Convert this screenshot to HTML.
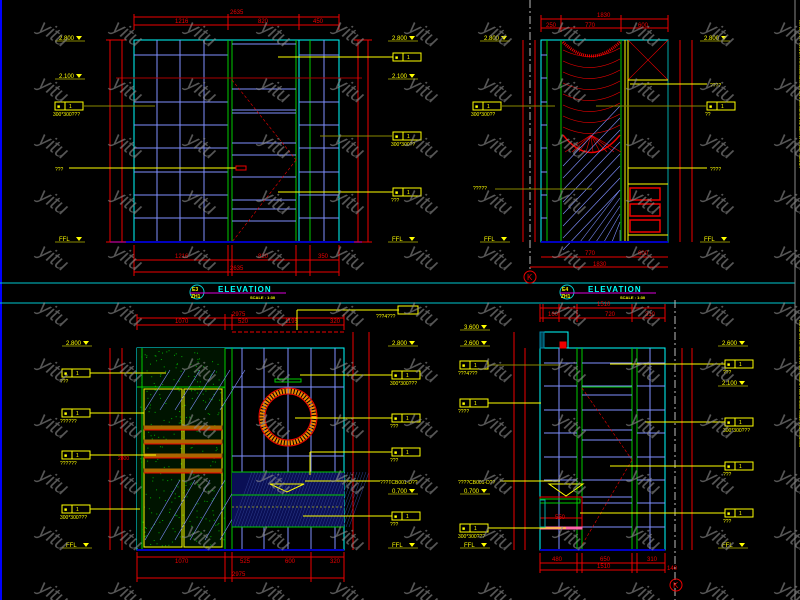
<!DOCTYPE html>
<html><head><meta charset="utf-8"><style>
html,body{margin:0;padding:0;background:#000;width:800px;height:600px;overflow:hidden}
svg{display:block}
text{font-family:"Liberation Sans",sans-serif}
</style></head><body>
<svg id="s" width="800" height="600" viewBox="0 0 800 600" xmlns="http://www.w3.org/2000/svg">
<rect width="800" height="600" fill="#000"/>
<line x1="1" y1="0" x2="1" y2="600" stroke="#0000ff" stroke-width="2"/>
<line x1="0" y1="283" x2="795" y2="283" stroke="#00c8d0" stroke-width="1"/>
<line x1="0" y1="303" x2="795" y2="303" stroke="#00c8d0" stroke-width="1"/>
<line x1="795" y1="0" x2="795" y2="600" stroke="#888" stroke-width="1"/>
<g id="g"></g>
<g font-weight="bold">
<circle cx="197" cy="292" r="7" fill="none" stroke="#0cc"/>
<text x="192" y="291" font-size="5" fill="#ff0">E3</text><text x="191" y="298" font-size="5" fill="#ff0">ZH1</text>
<line x1="190" y1="293" x2="286" y2="293" stroke="#d0d"/>
<text x="218" y="292" font-size="8" fill="#0ff" letter-spacing="1">ELEVATION</text>
<text x="250" y="299" font-size="4" fill="#ff0">SCALE :  1:30</text>
<circle cx="567" cy="292" r="7" fill="none" stroke="#0cc"/>
<text x="562" y="291" font-size="5" fill="#ff0">E4</text><text x="561" y="298" font-size="5" fill="#ff0">ZH1</text>
<line x1="560" y1="293" x2="656" y2="293" stroke="#d0d"/>
<text x="588" y="292" font-size="8" fill="#0ff" letter-spacing="1">ELEVATION</text>
<text x="620" y="299" font-size="4" fill="#ff0">SCALE :  1:30</text>
</g>
<circle cx="530" cy="277" r="6" fill="none" stroke="#e00"/><text x="527" y="280" font-size="8" fill="#e00">K</text>
<circle cx="676" cy="585" r="6" fill="none" stroke="#e00"/><text x="673" y="588" font-size="8" fill="#e00">K</text>
<g fill="#ff0" font-size="3.5">
<text transform="translate(799,20) rotate(90)">REFER HTTP://WWW.YITU.CN/DRAWINGS DWG ELEVATION DETAILS INTERIOR CABINET</text>
<text transform="translate(799,320) rotate(90)">ELEVATION DETAILS INTERIOR CABINET BATHROOM SCALE 1:30 DRAWING</text>
</g>
</svg>
<script>
var g=document.getElementById('g'),h='';
function L(a,b,c,d,col,w,da){h+='<line x1="'+a+'" y1="'+b+'" x2="'+c+'" y2="'+d+'" stroke="'+col+'" stroke-width="'+(w||1)+'"'+(da?' stroke-dasharray="'+da+'"':'')+'/>';}
function R(x,y,w,hh,col,f,sw){h+='<rect x="'+x+'" y="'+y+'" width="'+w+'" height="'+hh+'" fill="'+(f||'none')+'" stroke="'+col+'" stroke-width="'+(sw||1)+'"/>';}
function T(x,y,t,col,s){h+='<text x="'+x+'" y="'+y+'" font-size="'+(s||6)+'" fill="'+col+'">'+t+'</text>';}
var RE='#e00',YE='#ff0',CY='#0ff',GR='#0c0',BL='#7f8fff',DB='#0000c0',OL='#888800';
function lvl(x,y,t,right){L(x,y+1,x+30,y+1,OL);T(x+4,y,t,YE,6);h+='<polygon points="'+(x+21)+','+(y-4)+' '+(x+27)+','+(y-4)+' '+(x+24)+','+y+'" fill="'+YE+'"/>';}
function tag(x,y,t,lx){R(x,y-4,28,8,YE);L(x+10,y-4,x+10,y+4,YE);T(x+2,y+2,'■',YE,5);T(x+14,y+2,'1',YE,5);if(t)T(x-2,y+10,t,YE,5);}
// TOP LEFT
R(134,40,205,202,CY);
[157,180,204].forEach(x=>L(x,40,x,242,BL));
[55,102,125,148,172,195,218].forEach(y=>L(134,y,228,y,BL));
[228,232,296,299,310].forEach(x=>L(x,40,x,242,x==299?CY:GR));
[44,78,89,110,113,143,155,177,200,209,221].forEach((y,i)=>L(232,y,296,y,BL));
L(232,78,296,78,GR);
[55,102,125,148,172,195,218].forEach(y=>L(299,y,339,y,BL));L(324,40,324,242,BL);
L(232,80,296,160,RE,0.6,'3,2');L(296,160,232,242,RE,0.6,'3,2');
L(116,78,362,78,'#a00');L(110,242,362,242,DB,2);
L(134,17,339,17,RE);L(134,25,339,25,RE);[134,228,299,339].forEach(x=>L(x,14,x,30,RE));
T(230,14,'2635',RE);T(175,23,'1216',RE);T(258,23,'820',RE);T(313,23,'450',RE);
L(110,40,110,242,RE);L(122,40,122,242,RE);L(358,40,358,242,RE);L(368,40,368,242,RE);
L(106,40,126,40,RE);L(106,242,126,242,RE);L(354,40,372,40,RE);L(354,242,372,242,RE);
L(134,260,339,260,RE);L(134,272,339,272,RE);[134,228,232,296,310,339].forEach(x=>L(x,245,x,276,RE));
T(175,258,'1216',RE);T(258,258,'820',RE);T(318,258,'350',RE);T(230,270,'2635',RE);
lvl(55,40,'2.800');lvl(55,78,'2.100');lvl(55,241,'FFL');lvl(388,40,'2.800');lvl(388,78,'2.100');lvl(388,241,'FFL');
tag(55,106,'300*300???');L(83,106,155,106,OL);
T(55,171,'???',YE,5);L(69,168,236,168,YE);R(236,166,10,4,RE);
tag(393,57);L(278,57,393,57,YE);tag(393,136,'300*300??');L(320,136,393,136,OL);tag(393,192,'???');L(278,192,393,192,YE);
// TOP RIGHT
L(530,0,530,270,'#bbb',1,'8,3,2,3');
R(541,40,127,202,CY);L(547,40,547,242,GR);L(561,40,561,242,GR);L(621,40,621,242,GR);L(625,40,625,242,YE);L(628,40,628,242,YE);L(668,40,668,242,'#0aa');
[55,78,102,125,148,172,195,218].forEach(y=>L(541,y,547,y,BL));
for(var i=0;i<8;i++){h+='<path d="M563 '+(50+i*11)+' Q591 '+(64+i*11)+' 620 '+(48+i*11)+'" fill="none" stroke="'+RE+'" stroke-width="0.6"/>';}
h+='<path d="M563 42 Q591 70 620 42" fill="none" stroke="'+RE+'" stroke-width="3" stroke-dasharray="1,1"/>';
h+='<path d="M563 135 Q591 170 620 135" fill="none" stroke="'+RE+'" stroke-width="1.5"/>';
for(var i=0;i<9;i++){L(591,135,565+i*7,152,RE,0.6);}
for(var i=0;i<8;i++){L(563,250-i*12,620,190-i*12,BL,0.6);}
for(var i=0;i<6;i++){L(580+i*8,242,620,190+i*8,BL,0.6);}
L(628,40,668,80,RE,0.6);L(668,40,628,80,RE,0.6);L(628,80,668,80,YE);
R(630,188,30,12,RE,'none',1.5);R(630,204,30,12,RE,'none',1.5);R(630,220,30,12,RE,'none',1.5);L(628,184,668,184,YE);L(628,235,668,235,YE);
L(541,242,668,242,DB,2);
L(541,19,668,19,RE);L(541,28,668,28,RE);[541,561,621,668].forEach(x=>L(x,15,x,32,RE));
T(597,17,'1830',RE);T(546,27,'250',RE);T(585,27,'770',RE);T(638,27,'600',RE);
L(523,40,523,242,RE);L(535,40,535,242,RE);L(680,40,680,242,RE);L(692,40,692,242,RE);
L(541,257,668,257,RE);L(530,267,668,267,RE);T(585,255,'770',RE);T(638,255,'600',RE);T(593,266,'1830',RE);
lvl(480,40,'2.800');lvl(480,241,'FFL');lvl(700,40,'2.800');lvl(700,241,'FFL');
tag(473,106,'300*300??');L(501,106,555,106,OL);tag(707,106,'??');L(596,106,707,106,OL);
T(710,87,'????',YE,5);L(630,84,707,84,YE);T(710,171,'????',YE,5);L(628,168,707,168,YE);
T(473,190,'?????',YE,5);L(495,189,592,189,OL);
// BOTTOM LEFT
R(137,348,207,202,CY);
h+='<rect x="137" y="348" width="88" height="200" fill="#001400"/>';
for(var i=0;i<300;i++){h+='<rect x="'+(140+Math.random()*84)+'" y="'+(350+Math.random()*196)+'" width="1" height="1" fill="#0a0"/>';}
L(142,348,142,550,GR);L(225,348,225,550,GR);L(232,348,232,550,GR);L(137,387,225,387,GR);
R(144,389,38,158,YE);R(184,389,38,158,YE);
[428,442,456,471].forEach(y=>{R(144,y-2,78,3,'#a60','#a60');L(144,y+2,222,y+2,RE);});
for(var i=0;i<6;i++){L(145+i*15,410,170+i*15,370,BL,0.6);L(145+i*15,540,180+i*15,480,BL,0.6);}
[242,264,288,311,335].forEach(x=>L(x,348,x,550,BL));[387,456].forEach(y=>L(232,y,344,y,BL));
h+='<circle cx="288" cy="417" r="26" fill="none" stroke="#e80" stroke-width="5" stroke-dasharray="2,1"/><circle cx="288" cy="417" r="23" fill="none" stroke="'+RE+'"/><circle cx="288" cy="417" r="29" fill="none" stroke="'+RE+'"/>';
R(275,379,26,3,GR);
h+='<rect x="232" y="472" width="112" height="55" fill="#0a0f55"/>';
for(var i=0;i<40;i++){L(232+i*3,527,232+i*3+20,472,'#304090',0.5);}
L(232,472,344,472,GR);L(232,495,344,495,GR);L(232,527,344,527,GR);L(232,507,344,507,YE,0.6,'2,2');
h+='<polygon points="270,484 304,484 287,492" fill="none" stroke="'+YE+'"/>';
L(137,550,344,550,DB,2);
L(137,318,344,318,RE);L(137,325,344,325,RE);L(232,332,344,332,RE,1,'4,2');[137,225,232,344].forEach(x=>L(x,314,x,330,RE));
T(232,316,'2975',RE);T(175,323,'1070',RE);T(238,323,'520',RE);T(285,323,'1195',RE);T(330,323,'320',RE);
L(110,348,110,550,RE);L(122,348,122,550,RE);L(353,332,353,550,RE);L(369,332,369,550,RE);
T(118,460,'2800',RE,5);
L(137,557,344,557,RE);L(137,578,344,578,RE);[137,225,232,311,344].forEach(x=>L(x,552,x,582,RE));
T(175,563,'1070',RE);T(240,563,'525',RE);T(285,563,'600',RE);T(330,563,'320',RE);T(232,576,'2975',RE);
lvl(62,345,'2.800');lvl(62,547,'FFL');lvl(388,345,'2.800');lvl(388,493,'0.700');lvl(388,547,'FFL');
tag(62,373,'???');L(90,373,166,373,YE);tag(62,413,'??????');L(90,413,144,413,YE);tag(62,455,'??????');L(90,455,156,455,YE);tag(62,509,'300*300???');L(90,509,140,509,YE);
T(376,318,'???4???',YE,5);L(297,310,399,310,YE);L(297,310,297,330,YE);R(398,306,20,8,YE);
tag(392,375,'300*300???');L(300,375,392,375,YE);tag(392,418,'???');L(295,418,392,418,YE);tag(392,452,'???');L(310,452,392,452,YE);L(310,452,310,475,YE);
T(380,484,'???TCB001-D??',YE,5);L(305,481,380,481,YE);tag(392,516,'???');L(303,516,392,516,YE);
// BOTTOM RIGHT
R(540,348,125,202,CY);R(540,332,28,16,CY);L(556,348,665,348,CY);R(540,332,4,16,'#08a','#045');
[559,650].forEach(x=>L(x,348,x,550,BL));[577,582,632,637].forEach(x=>L(x,348,x,550,GR));
[363,386,410,433,457,480,503,527].forEach(y=>{L(544,y,577,y,BL);L(637,y,665,y,BL);});
[363,386,395,410,430,440,457,480,497,503,527].forEach(y=>L(582,y,632,y,BL));L(582,387,632,387,GR);
L(582,388,632,460,RE,0.6,'3,2');L(632,460,582,545,RE,0.6,'3,2');
L(675,300,675,600,'#bbb',1,'8,3,2,3');
h+='<polygon points="549,484 583,484 566,496" fill="none" stroke="'+YE+'"/>';
R(540,497,42,30,RE);R(540,499,40,4,GR);L(540,518,582,518,RE);R(540,527,42,2,'#f6a','#f6a');R(540,500,5,27,'#0aa');
T(555,519,'550',RE);R(560,342,6,6,RE,RE);
L(540,550,665,550,DB,2);
L(540,308,665,308,RE);L(540,318,665,318,RE);[540,543,559,577,632,665].forEach(x=>L(x,304,x,322,RE));
T(597,306,'1510',RE);T(605,316,'720',RE);T(548,316,'160',RE);T(645,316,'310',RE);
L(514,332,514,550,RE);L(525,348,525,550,RE);L(682,348,682,550,RE);L(692,348,692,550,RE);
L(540,563,665,563,RE);L(540,570,665,570,RE);[540,577,582,632,637,665].forEach(x=>L(x,553,x,573,RE));
T(552,561,'480',RE);T(600,561,'650',RE);T(647,561,'310',RE);T(597,568,'1510',RE);T(667,570,'140',RE);
lvl(460,329,'3.600');lvl(460,345,'2.600');lvl(460,493,'0.700');lvl(460,547,'FFL');lvl(718,345,'2.600');lvl(718,385,'2.100');lvl(718,547,'FFL');
tag(460,365,'???4???');L(488,365,560,365,OL);tag(460,403,'????');L(488,403,541,403,YE);
T(458,484,'????CB001-D??',YE,5);L(500,481,560,481,YE);tag(460,528,'300*300???');L(488,528,566,528,YE);
tag(725,364,'???');L(610,364,725,364,YE);tag(725,422,'300*300???');L(645,422,725,422,YE);tag(725,466,'???');L(610,466,725,466,YE);tag(725,513,'???');L(580,513,725,513,YE);
for(var r=0;r<11;r++)for(var c=0;c<11;c++){var x=37+c*74,y=30+r*56;h+='<text x="'+x+'" y="'+y+'" font-size="20" font-style="italic" fill="#909090" fill-opacity="0.6" transform="rotate(35 '+x+' '+y+')">yitu</text>';}
g.innerHTML=h;
</script>
</body></html>
